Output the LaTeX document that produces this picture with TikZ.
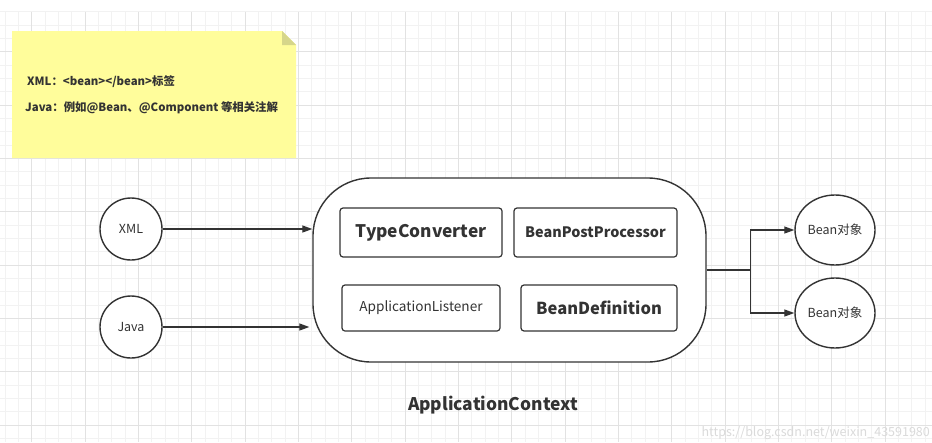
\documentclass[tikz,border=0pt]{standalone}
\usepackage{fontspec}
\setmainfont{Noto Sans CJK SC}
\definecolor{inkgray}{RGB}{51,51,51}
\definecolor{gridminor}{RGB}{242,242,242}
\definecolor{gridmajor}{RGB}{226,226,226}
\definecolor{notefill}{RGB}{255,253,155}
\definecolor{notefold}{RGB}{214,214,138}
\definecolor{marktext}{RGB}{218,218,218}
\usepackage{tikz}
\usetikzlibrary{arrows.meta, positioning, calc, shapes.geometric}

\tikzset{
  srcnode/.style={circle, draw=inkgray, line width=1.4pt, fill=white,
    minimum size=62pt, inner sep=0pt, font=\fontsize{12.5}{14}\selectfont, text=inkgray},
  beannode/.style={ellipse, draw=inkgray, line width=1.4pt, fill=white,
    minimum width=80pt, minimum height=70pt, inner sep=0pt,
    font=\fontsize{12.5}{14}\selectfont, text=inkgray},
  partbox/.style={draw=inkgray, line width=1.2pt, rounded corners=3pt, fill=white,
    inner sep=0pt, text=inkgray},
  notetext/.style={anchor=west, inner sep=0pt, text=inkgray,
    font=\fontsize{11.4}{13}\selectfont\bfseries},
  flow/.style={draw=inkgray, line width=1.3pt, -{Triangle[length=10pt, width=7pt]}},
}

\begin{document}
\begin{tikzpicture}[x=1pt, y=-1pt]
  \useasboundingbox (0,0) rectangle (932,442);
  \fill[white] (0,0) rectangle (932,442);
  % background grid
  \foreach \k in {0,...,69}
    \draw[gridminor, line width=0.8pt] ({5+13.333*\k},11.7) -- ({5+13.333*\k},442);
  \foreach \k in {0,...,32}
    \draw[gridminor, line width=0.8pt] (0,{11.7+13.333*\k}) -- (932,{11.7+13.333*\k});
  \foreach \k in {0,...,17}
    \draw[gridmajor, line width=0.8pt] ({31.7+53.333*\k},11.7) -- ({31.7+53.333*\k},442);
  \foreach \k in {0,...,7}
    \draw[gridmajor, line width=0.8pt] (0,{51.7+53.333*\k}) -- (932,{51.7+53.333*\k});

  % note
  \fill[notefill] (12,31) -- (282,31) -- (296,45) -- (296,158) -- (12,158) -- cycle;
  \fill[notefold] (282,31) -- (296,45) -- (282,45) -- cycle;
  \node[notetext] (notexml) at (27,82) {XML：<bean></bean>标签};
  \node[notetext] (notejava) at (25,108) {Java：例如@Bean、@Component 等相关注解};

  % sources
  \node[srcnode] (xml) at (131,229) {XML};
  \node[srcnode] (java) at (131,327) {Java};

  % application context
  \node[draw=inkgray, line width=1.4pt, fill=white, rounded corners=58pt,
    minimum width=393pt, minimum height=184pt] (ctx) at (509.5,270) {};
  \node[partbox, minimum width=162pt, minimum height=49pt,
    font=\fontsize{17.3}{20}\selectfont\bfseries] (conv) at (421,232.5) {TypeConverter};
  \node[partbox, minimum width=163pt, minimum height=49pt,
    font=\fontsize{14.4}{16}\selectfont\bfseries] (post) at (595.5,232.5) {BeanPostProcessor};
  \node[partbox, minimum width=158pt, minimum height=46pt,
    font=\fontsize{13.6}{15}\selectfont] (listen) at (421,308) {ApplicationListener};
  \node[partbox, minimum width=156pt, minimum height=46pt,
    font=\fontsize{16.5}{19}\selectfont\bfseries] (def) at (599,308) {BeanDefinition};
  \node[text=inkgray, font=\fontsize{17.4}{20}\selectfont\bfseries]
    (ctxlabel) at (493,405) {ApplicationContext};

  % beans
  \node[beannode] (bean1) at (835,230) {Bean对象};
  \node[beannode] (bean2) at (835,313) {Bean对象};

  \draw[flow] (xml.east) -- (xml.east -| ctx.west);
  \draw[flow] (java.east) -- ($(java.east -| ctx.west)+(-3,0)$);
  \coordinate (split) at ($(ctx.east)+(44,0)$);
  \draw[inkgray, line width=1.3pt] (ctx.east) -- (split);
  \draw[flow] (split) |- (bean1.west);
  \draw[flow] (split) |- (bean2.west);

  \node[anchor=east, inner sep=0pt, text=marktext, font=\fontsize{12.5}{14}\selectfont]
    (mark) at (930,433) {https://blog.csdn.net/weixin\_43591980};
\end{tikzpicture}
\end{document}
